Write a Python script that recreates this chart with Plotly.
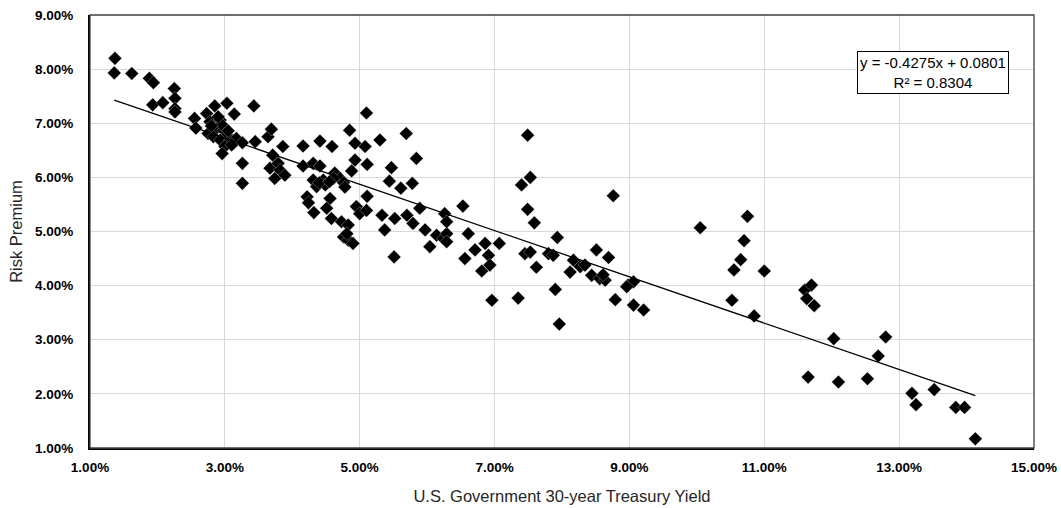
import numpy as np
import plotly.graph_objects as go

# U.S. Government 30-year Treasury yield (%) and risk premium (%)
treasury_yield_pct = [
    1.37, 1.36, 1.62, 1.88, 1.94, 1.93, 2.08, 2.25, 2.26, 2.26, 2.26, 2.55, 2.57,
    2.73, 2.85, 2.78, 2.93, 2.88, 2.75, 2.98, 2.83, 3.03, 2.93, 3.08, 3.13, 3.00,
    3.17, 3.03, 3.14, 2.96, 3.26, 3.26, 3.26, 3.43, 3.45, 2.95, 3.05, 2.90, 3.10, 2.80,
    3.64, 3.69, 3.86, 3.71, 3.67, 3.79, 3.82, 3.89, 3.74,
    4.16, 4.41, 4.59, 4.85, 4.93, 5.08, 5.10, 5.30, 5.69, 5.84, 4.93, 4.88, 5.11,
    5.47, 4.16, 4.31, 4.41, 4.63, 4.71, 4.31, 4.46, 4.36, 4.49, 4.61, 4.76, 4.78,
    5.44, 5.61, 5.78, 4.22, 4.24, 4.56, 4.51, 5.11, 4.32, 4.95, 5.00, 5.10, 4.58,
    4.73, 4.83, 4.76, 4.83, 4.90, 5.33, 5.37, 5.52, 5.70, 5.79, 5.89, 5.97, 6.04,
    6.14, 5.51, 4.81, 4.40, 4.55,
    6.24, 6.29, 6.29, 6.26, 6.29, 6.53, 6.61, 6.71, 6.56, 6.81, 6.86, 6.91, 6.93,
    7.07, 6.96,
    7.35, 7.45, 7.53, 7.62, 7.80, 7.87, 7.93, 7.90, 7.96, 7.49, 7.53, 7.40, 7.49, 7.59,
    8.17, 8.12, 8.27, 8.34, 8.44, 8.56, 8.64, 8.61, 8.51, 8.69, 8.76, 8.79, 8.98,
    9.06, 9.06, 9.21, 8.96,
    10.05, 10.75, 10.70, 10.65, 10.55, 11.00, 10.52, 10.85, 11.60, 11.70, 11.63,
    11.74, 12.03, 12.80, 11.65, 12.10, 12.53, 12.69, 13.19, 13.25, 13.52, 13.84,
    13.97, 14.13,
]
risk_premium_pct = [
    8.20, 7.93, 7.92, 7.83, 7.75, 7.34, 7.38, 7.64, 7.46, 7.27, 7.21, 7.09, 6.91,
    7.18, 7.32, 7.03, 7.06, 6.91, 6.81, 6.87, 6.75, 6.78, 6.69, 6.69, 6.63, 6.57,
    6.72, 7.37, 7.17, 6.44, 6.64, 6.26, 5.89, 7.32, 6.66, 6.98, 6.86, 7.12, 6.60, 6.95,
    6.75, 6.89, 6.57, 6.41, 6.17, 6.26, 6.13, 6.04, 5.98,
    6.58, 6.67, 6.57, 6.87, 6.63, 6.57, 7.19, 6.69, 6.81, 6.35, 6.32, 6.12, 6.24,
    6.18, 6.21, 6.26, 6.21, 6.08, 5.98, 5.95, 5.95, 5.83, 5.86, 5.98, 5.90, 5.82,
    5.93, 5.80, 5.89, 5.64, 5.53, 5.61, 5.43, 5.65, 5.35, 5.46, 5.33, 5.39, 5.24,
    5.18, 5.12, 4.90, 4.84, 4.78, 5.30, 5.03, 5.24, 5.30, 5.15, 5.43, 5.03, 4.72,
    4.93, 4.53, 4.96, 5.90, 5.92,
    4.87, 4.96, 4.81, 5.33, 5.18, 5.47, 4.96, 4.66, 4.50, 4.27, 4.78, 4.56, 4.38,
    4.78, 3.73,
    3.77, 4.59, 4.62, 4.34, 4.59, 4.56, 4.89, 3.93, 3.29, 6.78, 6.00, 5.86, 5.41, 5.16,
    4.47, 4.25, 4.35, 4.38, 4.19, 4.13, 4.10, 4.20, 4.66, 4.52, 5.66, 3.74, 4.01,
    4.07, 3.64, 3.55, 3.98,
    5.07, 5.28, 4.83, 4.48, 4.29, 4.27, 3.73, 3.44, 3.92, 4.01, 3.76,
    3.63, 3.02, 3.05, 2.31, 2.22, 2.28, 2.70, 2.01, 1.80, 2.08, 1.75,
    1.75, 1.17,
]

# Linear trendline (as reported on the chart)
slope = -0.4275
intercept = 0.0801
r_squared = 0.8304

x_ticks = [0.01, 0.03, 0.05, 0.07, 0.09, 0.11, 0.13, 0.15]
y_ticks = [0.01, 0.02, 0.03, 0.04, 0.05, 0.06, 0.07, 0.08, 0.09]

x = np.array(treasury_yield_pct) / 100.0
y = np.array(risk_premium_pct) / 100.0

x_line = np.array([x.min(), x.max()])
y_line = slope * x_line + intercept

FONT = "Liberation Sans, Arial, sans-serif"

fig = go.Figure()
fig.add_trace(go.Scatter(
    x=x, y=y, mode="markers",
    marker=dict(symbol="diamond", size=10.5, color="black",
                line=dict(width=0.6, color="rgba(255,255,255,0.5)")),
    showlegend=False, hoverinfo="x+y",
))
fig.add_trace(go.Scatter(
    x=x_line, y=y_line, mode="lines",
    line=dict(color="black", width=1.3),
    showlegend=False, hoverinfo="skip",
))

fig.update_layout(
    width=1061, height=508,
    margin=dict(l=90, r=27, t=15, b=60),
    paper_bgcolor="white", plot_bgcolor="white",
    font=dict(family=FONT, color="black"),
    xaxis=dict(
        range=[0.01, 0.15], tickvals=x_ticks, tickformat=".2%",
        showgrid=True, gridcolor="#d9d9d9", gridwidth=1, automargin=False,
        zeroline=False, showline=True, linecolor="black", linewidth=2,
        ticks="", ticklabelstandoff=6,
        tickfont=dict(family=FONT, size=13.5, color="black", weight="bold"),
        title=dict(text="U.S. Government 30-year Treasury Yield",
                   font=dict(family=FONT, size=16.5, color="#262626"), standoff=16),
    ),
    yaxis=dict(
        range=[0.01, 0.09], tickvals=y_ticks, tickformat=".2%",
        showgrid=True, gridcolor="#d9d9d9", gridwidth=1, automargin=False,
        zeroline=False, showline=True, linecolor="black", linewidth=2,
        ticks="", ticklabelstandoff=12,
        tickfont=dict(family=FONT, size=13.5, color="black", weight="bold"),
        title=dict(text="Risk Premium",
                   font=dict(family=FONT, size=16.5, color="#262626"), standoff=8),
    ),
    shapes=[dict(type="rect", xref="paper", yref="paper", x0=0, y0=0, x1=1, y1=1,
                 line=dict(color="#404040", width=1.3), fillcolor="rgba(0,0,0,0)",
                 layer="above")],
    annotations=[dict(
        xref="paper", yref="paper", x=(933 - 90) / 944, y=(448 - 72.5) / 433,
        xanchor="center", yanchor="middle", align="center",
        text=f"y = {slope:.4f}x + {intercept:.4f}<br>R² = {r_squared:.4f}",
        showarrow=False, font=dict(family=FONT, size=15, color="black"),
        bordercolor="black", borderwidth=1, borderpad=2, bgcolor="white",
    )],
)

fig.write_html(
    "out.html",
    config={"displayModeBar": False},
    post_script="document.body.style.margin='0px';document.body.style.overflow='hidden';",
)
